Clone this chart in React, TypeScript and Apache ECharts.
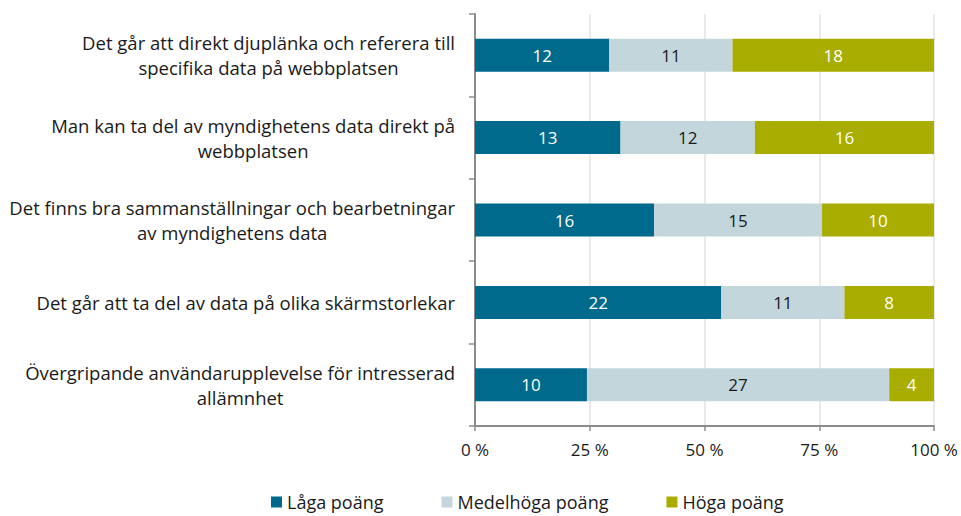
import React, { useEffect, useRef } from "react";
import * as echarts from "echarts";

const categories = [
  "Det går att direkt djuplänka och referera till\nspecifika data på webbplatsen",
  "Man kan ta del av myndighetens data direkt på\nwebbplatsen",
  "Det finns bra sammanställningar och bearbetningar\nav myndighetens data",
  "Det går att ta del av data på olika skärmstorlekar",
  "Övergripande användarupplevelse för intresserad\nallämnhet",
];
const seriesNames = ["Låga poäng", "Medelhöga poäng", "Höga poäng"];
const lowCounts = [12, 13, 16, 22, 10];
const midCounts = [11, 12, 15, 11, 27];
const highCounts = [18, 16, 10, 8, 4];
const xTicks = [0, 25, 50, 75, 100];

const colors = ["#006A8D", "#C3D6DC", "#A8AD00"];
const FONT = "Open Sans";

export default function App() {
  const ref = useRef<HTMLDivElement>(null);
  useEffect(() => {
    document.body.style.margin = "0";
    if (!ref.current) return;
    const chart = echarts.init(ref.current, undefined, { renderer: "svg" });
    const totals = categories.map((_, i) => lowCounts[i] + midCounts[i] + highCounts[i]);
    const all = [lowCounts, midCounts, highCounts];
    const series = all.map((counts, s) => ({
      name: seriesNames[s],
      type: "bar",
      stack: "total",
      barWidth: "40%",
      itemStyle: { color: colors[s] },
      label: {
        show: true,
        position: "inside",
        color: s === 1 ? "#1a1a1a" : "#fff",
        fontFamily: FONT,
        fontSize: 17,
        formatter: (p: any) => String(counts[p.dataIndex]),
      },
      data: counts.map((c, i) => (c / totals[i]) * 100),
    }));
    chart.setOption({
      animation: false,
      textStyle: { fontFamily: FONT },
      grid: { left: 475, right: 27, top: 14, bottom: 90, containLabel: false },
      legend: {
        bottom: 0,
        left: 266,
        itemWidth: 11,
        itemHeight: 11,
        itemGap: 58,
        icon: "rect",
        textStyle: { fontFamily: FONT, fontSize: 18, color: "#1a1a1a" },
        data: seriesNames,
      },
      xAxis: {
        type: "value",
        min: xTicks[0],
        max: xTicks[xTicks.length - 1],
        interval: 25,
        axisLine: { show: true, lineStyle: { color: "#8c8c8c", width: 2 } },
        axisTick: { show: true, length: 5, lineStyle: { color: "#8c8c8c", width: 1.5 } },
        splitLine: { show: true, lineStyle: { color: "#e3e3e3", width: 1.5 } },
        axisLabel: {
          formatter: (v: number) => `${v} %`,
          fontFamily: FONT,
          fontSize: 17,
          color: "#1a1a1a",
          margin: 15,
        },
      },
      yAxis: {
        type: "category",
        inverse: true,
        data: categories,
        axisLine: { show: true, lineStyle: { color: "#8c8c8c", width: 2 } },
        axisTick: { show: true, length: 6, alignWithLabel: false, lineStyle: { color: "#8c8c8c", width: 1.5 } },
        axisLabel: {
          margin: 20,
          align: "right",
          formatter: (v: string) => v.split("\n").map((l) => `{c|${l}}`).join("\n"),
          rich: {
            c: { align: "center", fontFamily: FONT, fontSize: 18.5, color: "#1a1a1a", lineHeight: 25 },
          },
        },
      },
      series,
    });
    return () => chart.dispose();
  }, []);
  return <div ref={ref} style={{ width: 961, height: 516 }} />;
}
